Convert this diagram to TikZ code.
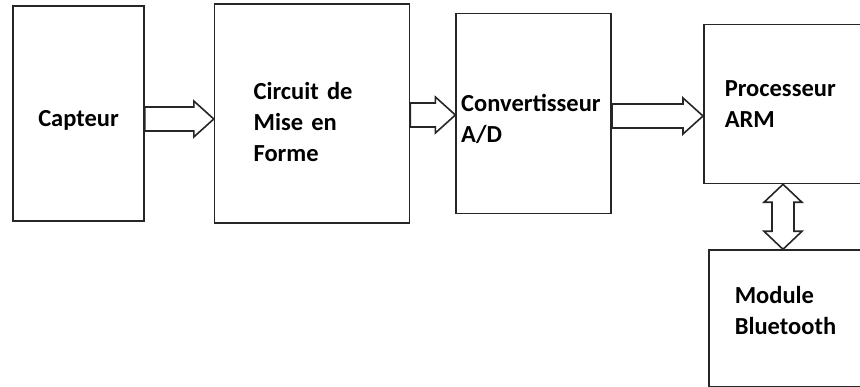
\documentclass[tikz,border=0pt]{standalone}
\usepackage{fontspec}
\setmainfont{Carlito}
\usetikzlibrary{positioning, calc}

% hollow block arrow from one box to the next (optional vertical shift)
\newcommand{\fatarrow}[3][0]{%
  \draw[fat] let \p1=($(#2)+(0pt,#1pt)$), \p2=(#3) in
    (\x1,\y1+12pt) -- (\x2-20pt,\y1+12pt) -- (\x2-20pt,\y1+18pt)
    -- (\x2,\y1) -- (\x2-20pt,\y1-18pt) -- (\x2-20pt,\y1-12pt)
    -- (\x1,\y1-12pt) -- cycle;}

% hollow two-headed block arrow, vertical (optional horizontal shift)
\newcommand{\dualarrow}[3][0]{%
  \draw[fat] let \p1=($(#2)+(#1pt,0pt)$), \p2=(#3) in
    (\x1,\y1) -- (\x1+19pt,\y1-18pt) -- (\x1+11pt,\y1-18pt)
    -- (\x1+11pt,\y2+18pt) -- (\x1+19pt,\y2+18pt) -- (\x1,\y2)
    -- (\x1-19pt,\y2+18pt) -- (\x1-11pt,\y2+18pt) -- (\x1-11pt,\y1-18pt)
    -- (\x1-19pt,\y1-18pt) -- cycle;}

\begin{document}
\begin{tikzpicture}[
    block/.style={rectangle, draw=black!85, line width=1.6pt, align=left,
      font=\fontsize{24.5}{31}\selectfont\bfseries},
    dropby/.style={execute at begin node={\rule{0pt}{#1}}},
    liftby/.style={execute at end node={\rule[-#1]{0pt}{#1}}},
    fat/.style={draw=black!85, line width=1.6pt, line join=miter, fill=white},
]
\useasboundingbox (0pt,0pt) rectangle (860pt,-387pt);
\clip (0pt,0pt) rectangle (860pt,-387pt);

% chain of blocks
\node[block, dropby=30pt, minimum width=131pt, minimum height=215pt] (capteur) at (78.5pt,-113.5pt) {Capteur};
\node[block, dropby=35pt, right=69pt of capteur, minimum width=195pt, minimum height=219pt,
      inner xsep=39pt, text width=117pt] (mef) {Circuit de\\Mise en\\Forme};
\node[block, dropby=28.5pt, right=45pt of mef, minimum width=155pt, minimum height=200pt,
      inner xsep=5pt, text width=145pt] (can) {Convertisseur\\A/D};
\node[block, right=91pt of can, yshift=9.5pt, minimum width=230pt, minimum height=159pt,
      inner xsep=21pt, text width=188pt] (arm) {Processeur\\ARM};
\node[block, liftby=16pt, below=65pt of arm.south west, anchor=north west, xshift=5pt,
      minimum width=230pt, minimum height=137pt,
      inner xsep=26pt, text width=178pt] (bt) {Module\\Bluetooth};

% block arrows
\fatarrow[-5.5]{capteur.east}{mef.west}
\fatarrow[-1.5]{mef.east}{can.west}
\fatarrow[-2.5]{can.east}{arm.west}
\dualarrow[80]{arm.south west}{bt.north west}

\end{tikzpicture}
\end{document}
